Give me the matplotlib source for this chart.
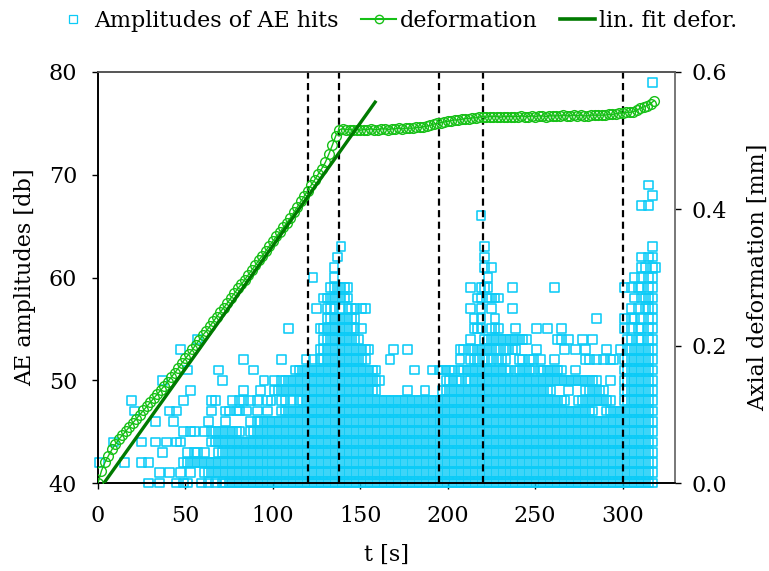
import matplotlib
matplotlib.use("Agg")
import matplotlib.pyplot as plt
from matplotlib.lines import Line2D
import numpy as np

plt.rcParams['font.family'] = ['DejaVu Serif']

# ---------------- data ----------------
# AE hits: for each amplitude level (dB) the occupancy of 2-s time bins
# (bins 0..159 cover 0..320 s; '#' = hit(s) present)
hit_levels = [79, 69, 68, 67, 66, 63, 62, 61, 60, 59, 58, 57, 56, 55, 54, 53,
              52, 51, 50, 49, 48, 47, 46, 45, 44, 43, 42, 41, 40]
hit_rows = [
    ".......... .......... .......... .......... .......... .......... .......... .......... .......... .......... .......... .......... .......... .......... .......... ........#.",
    ".......... .......... .......... .......... .......... .......... .......... .......... .......... .......... .......... .......... .......... .......... .......... .......#..",
    ".......... .......... .......... .......... .......... .......... .......... .......... .......... .......... .......... .......... .......... .......... .......... ........#.",
    ".......... .......... .......... .......... .......... .......... .......... .......... .......... .......... .......... .......... .......... .......... .......... .....#.#..",
    ".......... .......... .......... .......... .......... .......... .......... .......... .......... .......... .........# .......... .......... .......... .......... ..........",
    ".......... .......... .......... .......... .......... .......... .........# .......... .......... .......... .......... #......... .......... .......... .......... ........#.",
    ".......... .......... .......... .......... .......... .......... ........#. .......... .......... .......... .......... #......... .......... .......... .......... .....#.##.",
    ".......... .......... .......... .......... .......... .......... .......#.. .......... .......... .......... .......... #.#....... .......... .......... .......... .....##.##",
    ".......... .......... .......... .......... .......... .......... .#.....#.. .......... .......... .......... .......... .#........ .......... .......... .......... ...#.#.##.",
    ".......... .......... .......... .......... .......... .......... ......#### ##........ .......... .......... ......#..# ##......#. .......... #......... .......... #.#.##.##.",
    ".......... .......... .......... .......... .......... .......... ....###### ##........ .......... .......... ........## .####..... .......... .......... .......... ...#.####.",
    ".......... .......... .......... .......... .......... .......... ..#..###.# .###.##... .......... .......... ......#..# ..#.....#. .......... .......... .......... ..#.#.###.",
    ".......... .......... .......... .......... .......... .......... .....##### ####...... .......... .......... .......#.# ...#...... .......... .......... ..#....... #.##.#.##.",
    ".......... .......... .......... .......... .......... ....#..... ...####### ####.#.... .......... .......... .......### ..###....# .....#..#. ..#....... .......... #.#.##.##.",
    ".......... .......... ........#. .......... .......... .......... ....###### #####..... .......... .......... ......#... ########## ###....... .##.#...#. .#........ .##.##.##.",
    ".......... .......... ...#...... .......... .......... .......... ...####### ########.. ....#...#. .......... ...##.#### #####.#### .....#.... ...#..#..# .....#...# .########.",
    ".......... .......... .......... .......... .#........ ..#......# .#.####### #######... ...#...... .......... ...#..###. ###.###... ##.##.#... #........# #.#.#.##.. #########.",
    ".......... .......... .....#.... ....#..... ....#..... ......#### ########## ########## .......... #....#.### ##.####### ########.# #####.#### ###...#... .......... #########.",
    ".......... ........#. .......... .....#.... .......#.. #.######## ########## ########## #......... .........# ####.##### ########## ########## ########## ###...#... #########.",
    ".......... .......... ......#... .......... .#....#... ########## ########## ########## ........#. ...#....## ########## ########## ########## ....#....# #####..... #########.",
    ".........# .......... ....#..... ..##....#. ##.#.#..## ..##.#.### ########## ########## ########## ########## ########## ########## ########## ####...### #######... #########.",
    ".......... #......... #.#....... ..#...##.# #.#..#..#. ..######## ########## ########## ########## ########## ########## ########## ########## ########## ##...##### #########.",
    ".......... ......#... .#........ .#....#... ...#.##### ########## ########## ########## ########## ########## ########## ########## ########## ########## ########## #########.",
    ".......... .......... ....#.##.. #.######## #..####### ########## ########## ########## ########## ########## ########## ########## ########## ########## ########## #########.",
    "....#..... ..#...#..# ..##...... ..######## ########## ########## ########## ########## ########## ########## ########## ########## ########## ########## ########## #########.",
    ".......... ........#. .....#.##. #...###### ########## ########## ########## ########## ########## ########## ########## ########## ########## ########## ########## #########.",
    "#......#.. ..#.#..... ....###### ########## ########## ########## ########## ########## ########## ########## ########## ########## ########## ########## ########## #########.",
    ".......... .......#.. #..#..#... ########## ########## ########## ########## ########## ########## ########## ########## ########## ########## ########## ########## #########.",
    ".......... ....#..#.. ..#.##...# .#.#.##### ########## ########## ########## ########## ########## ########## ########## ########## ########## ########## ########## #########.",
]
bin_width_s = 2.0

# Axial deformation [mm], sampled every 2 s from 0 to 318 s
deform_step_s = 2.0
deform_d = [
    0.000, 0.018, 0.030, 0.040, 0.049, 0.057, 0.064, 0.070, 0.076, 0.082,
    0.088, 0.094, 0.100, 0.106, 0.112, 0.118, 0.124, 0.130, 0.136, 0.142,
    0.148, 0.155, 0.161, 0.168, 0.175, 0.182, 0.188, 0.195, 0.202, 0.209,
    0.216, 0.222, 0.229, 0.236, 0.243, 0.250, 0.256, 0.263, 0.270, 0.277,
    0.284, 0.290, 0.297, 0.304, 0.311, 0.318, 0.325, 0.332, 0.339, 0.346,
    0.353, 0.360, 0.366, 0.373, 0.380, 0.387, 0.395, 0.403, 0.411, 0.419,
    0.427, 0.435, 0.443, 0.451, 0.459, 0.468, 0.480, 0.493, 0.507, 0.516,
    0.517, 0.516, 0.516, 0.515, 0.516, 0.515, 0.516, 0.516, 0.517, 0.516,
    0.516, 0.517, 0.517, 0.516, 0.517, 0.517, 0.518, 0.517, 0.518, 0.518,
    0.518, 0.519, 0.519, 0.520, 0.521, 0.522, 0.524, 0.525, 0.526, 0.527,
    0.528, 0.529, 0.530, 0.530, 0.531, 0.532, 0.532, 0.533, 0.533, 0.534,
    0.535, 0.534, 0.535, 0.535, 0.535, 0.534, 0.535, 0.535, 0.535, 0.535,
    0.535, 0.536, 0.535, 0.535, 0.536, 0.535, 0.536, 0.536, 0.535, 0.536,
    0.536, 0.536, 0.536, 0.537, 0.536, 0.536, 0.537, 0.536, 0.537, 0.536,
    0.536, 0.537, 0.537, 0.537, 0.537, 0.537, 0.538, 0.538, 0.539, 0.540,
    0.540, 0.541, 0.541, 0.542, 0.544, 0.547, 0.549, 0.551, 0.554, 0.558,
]

# linear fit of the deformation (end points)
fit_t = [4.0, 158.5]
fit_d = [0.002, 0.556]

# phase boundaries [s]
phase_t = [120, 138, 195, 220, 300]

x_ticks = [0, 50, 100, 150, 200, 250, 300]
y_ticks = [40, 50, 60, 70, 80]
y2_ticks = [0.0, 0.2, 0.4, 0.6]

# ---------------- decode hits ----------------
hit_t, hit_amp = [], []
for lvl, row in zip(hit_levels, hit_rows):
    cells = row.replace(" ", "")
    for i, ch in enumerate(cells):
        if ch == "#":
            hit_t.append(i * bin_width_s + bin_width_s / 2)
            hit_amp.append(lvl)

deform_t = np.arange(len(deform_d)) * deform_step_s

# ---------------- plot ----------------
cyan = '#0ccbf7'
green = '#16c016'
dark_green = '#007a00'

fig = plt.figure(figsize=(7.69, 5.71), dpi=100)
ax = fig.add_axes([98 / 769, 1 - 483 / 571, (675 - 98) / 769, (483 - 72) / 571])

ax.scatter(hit_t, hit_amp, marker='s', s=40, facecolors='none',
           edgecolors=cyan, linewidths=1.15, clip_on=False, zorder=2)

for pt in phase_t:
    ax.axvline(pt, color='black', linestyle=(0, (3.2, 2.0)), linewidth=1.6, zorder=3)

ax.set_xlim(0, 330)
ax.set_ylim(40, 80)
ax.set_xticks(x_ticks)
ax.set_yticks(y_ticks)
ax.set_xlabel('t [s]', fontsize=16, labelpad=12)
ax.set_ylabel('AE amplitudes [db]', fontsize=16, labelpad=9)
ax.tick_params(axis='x', labelsize=16, direction='out', length=4, width=1, pad=12)
ax.tick_params(axis='y', labelsize=16, direction='out', length=4, width=1, pad=11)

ax2 = ax.twinx()
ax2.plot(deform_t, deform_d, color=green, linewidth=1.0, marker='o',
         markersize=7, markerfacecolor='none', markeredgecolor=green,
         markeredgewidth=1.0, zorder=3)
ax2.plot(fit_t, fit_d, color=dark_green, linewidth=2.4, zorder=4)
ax2.set_ylim(0, 0.6)
ax2.set_yticks(y2_ticks)
ax2.set_yticklabels([f"{v:.1f}" for v in y2_ticks])
ax2.set_ylabel('Axial deformation [mm]', fontsize=16, labelpad=14)
ax2.tick_params(axis='y', labelsize=16, direction='out', length=4, width=1, pad=8)

for a in (ax, ax2):
    a.spines['left'].set_color('black')
    a.spines['bottom'].set_color('black')
    a.spines['top'].set_color('#555555')
    a.spines['right'].set_color('#777777')
    for s in a.spines.values():
        s.set_linewidth(1.2)

handles = [
    Line2D([], [], linestyle='none', marker='s', markersize=6,
           markerfacecolor='none', markeredgecolor=cyan, markeredgewidth=0.9),
    Line2D([], [], color=green, linewidth=1.5, marker='o', markersize=6,
           markerfacecolor='none', markeredgecolor=green),
    Line2D([], [], color=dark_green, linewidth=2.6),
]
labels = ['Amplitudes of AE hits', 'deformation', 'lin. fit defor.']
fig.legend(handles, labels, loc='center', bbox_to_anchor=(0.515, 0.963),
           ncol=3, frameon=False, fontsize=16, handlelength=1.6,
           handletextpad=0.15, columnspacing=1.0)

fig.savefig('out.png', dpi=100)
